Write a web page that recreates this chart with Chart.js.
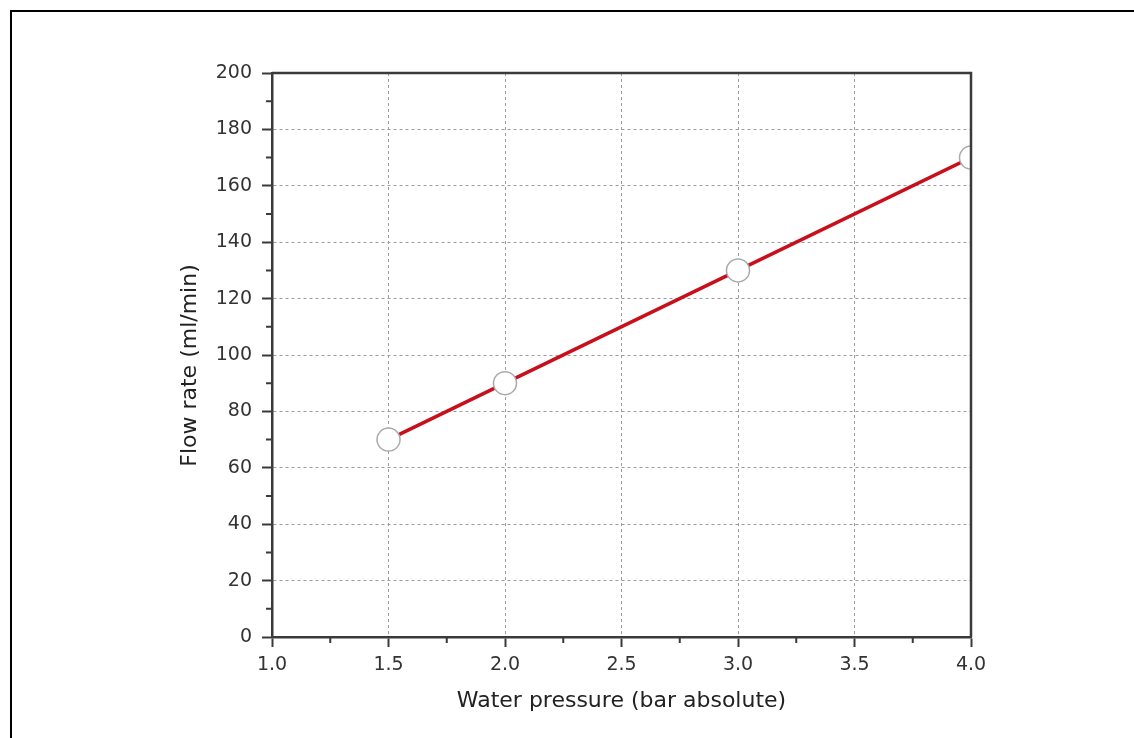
<!DOCTYPE html>
<html>
<head>
<meta charset="utf-8">
<script src="https://cdn.jsdelivr.net/npm/chart.js@4/dist/chart.umd.min.js"></script>
<style>
  html, body { margin: 0; padding: 0; background: #fff; }
  #wrap { position: relative; width: 1134px; height: 738px; overflow: hidden; }
  #frame { position: absolute; left: 10px; top: 10px; width: 1130px; height: 740px;
           border-top: 2px solid #000; border-left: 2px solid #000; pointer-events: none; }
  canvas { position: absolute; left: 0; top: 0; }
</style>
</head>
<body>
<div id="wrap">
  <canvas id="c" width="1134" height="738"></canvas>
  <div id="frame"></div>
</div>
<script>
// ---- data ----
const pressure = [1.5, 2.0, 3.0, 4.0];          // bar absolute
const flowRate = [70, 90, 130, 170];            // ml/min
const xTicksMajor = [1.0, 1.5, 2.0, 2.5, 3.0, 3.5, 4.0];
const xTicksMinor = [1.25, 1.75, 2.25, 2.75, 3.25, 3.75];
const yTicksMajor = [0, 20, 40, 60, 80, 100, 120, 140, 160, 180, 200];
const yTicksMinor = [10, 30, 50, 70, 90, 110, 130, 150, 170, 190];
const xTitle = 'Water pressure (bar absolute)';
const yTitle = 'Flow rate (ml/min)';

const AXIS = '#3a3a3a';
const GRID = '#9c9c9c';
const TXT = '#333333';

const framePlugin = {
  id: 'framePlugin',
  afterDraw(chart) {
    const ctx = chart.ctx;
    const a = chart.chartArea;
    const xs = chart.scales.x, ys = chart.scales.y;
    ctx.save();
    ctx.strokeStyle = AXIS;
    ctx.lineWidth = 2.5;
    ctx.beginPath();
    ctx.moveTo(a.left, a.top);
    ctx.lineTo(a.right, a.top);
    ctx.lineTo(a.right, a.bottom);
    ctx.stroke();
    // minor ticks
    ctx.lineWidth = 2;
    ctx.beginPath();
    xTicksMinor.forEach(v => {
      const px = xs.getPixelForValue(v);
      ctx.moveTo(px, a.bottom);
      ctx.lineTo(px, a.bottom + 6);
    });
    yTicksMinor.forEach(v => {
      const py = ys.getPixelForValue(v);
      ctx.moveTo(a.left, py);
      ctx.lineTo(a.left - 6, py);
    });
    ctx.stroke();
    ctx.restore();
  }
};

const font = { family: '"DejaVu Sans", Verdana, sans-serif' };

new Chart(document.getElementById('c'), {
  type: 'line',
  data: {
    datasets: [{
      data: pressure.map((p, i) => ({ x: p, y: flowRate[i] })),
      borderColor: '#c8101c',
      borderWidth: 3.5,
      pointRadius: 11.5,
      pointBackgroundColor: '#ffffff',
      pointBorderColor: '#aaaaaa',
      pointBorderWidth: 1.5,
      tension: 0
    }]
  },
  options: {
    responsive: false,
    animation: false,
    devicePixelRatio: 1,
    layout: { padding: { left: 0, top: 73, right: 163, bottom: 0 } },
    plugins: { legend: { display: false }, tooltip: { enabled: false } },
    scales: {
      x: {
        type: 'linear',
        min: 1, max: 4,
        afterFit(s) { s.height = 101; },
        afterBuildTicks(s) { s.ticks = xTicksMajor.map(v => ({ value: v })); },
        ticks: {
          callback: v => Number(v).toFixed(1),
          color: TXT, padding: 7,
          font: { ...font, size: 19 },
          maxRotation: 0, autoSkip: false
        },
        grid: {
          color: GRID, lineWidth: 1,
          tickLength: 10, tickColor: AXIS, tickWidth: 2, tickBorderDash: []
        },
        border: { display: true, color: AXIS, width: 2.5, dash: [3, 3] },
        title: {
          display: true, text: xTitle, color: '#222',
          font: { ...font, size: 22 },
          padding: { top: 0, bottom: 24 }
        }
      },
      y: {
        type: 'linear',
        min: 0, max: 200,
        afterFit(s) { s.width = 272; },
        afterBuildTicks(s) { s.ticks = yTicksMajor.map(v => ({ value: v })); },
        ticks: {
          color: TXT, padding: 10,
          font: { ...font, size: 19 },
          autoSkip: false
        },
        grid: {
          color: GRID, lineWidth: 1,
          tickLength: 10, tickColor: AXIS, tickWidth: 2, tickBorderDash: []
        },
        border: { display: true, color: AXIS, width: 2.5, dash: [3, 3] },
        title: {
          display: true, text: yTitle + '   ', color: '#222',
          font: { ...font, size: 22 },
          padding: { top: 177, bottom: 0 }
        }
      }
    }
  },
  plugins: [framePlugin]
});
</script>
</body>
</html>
